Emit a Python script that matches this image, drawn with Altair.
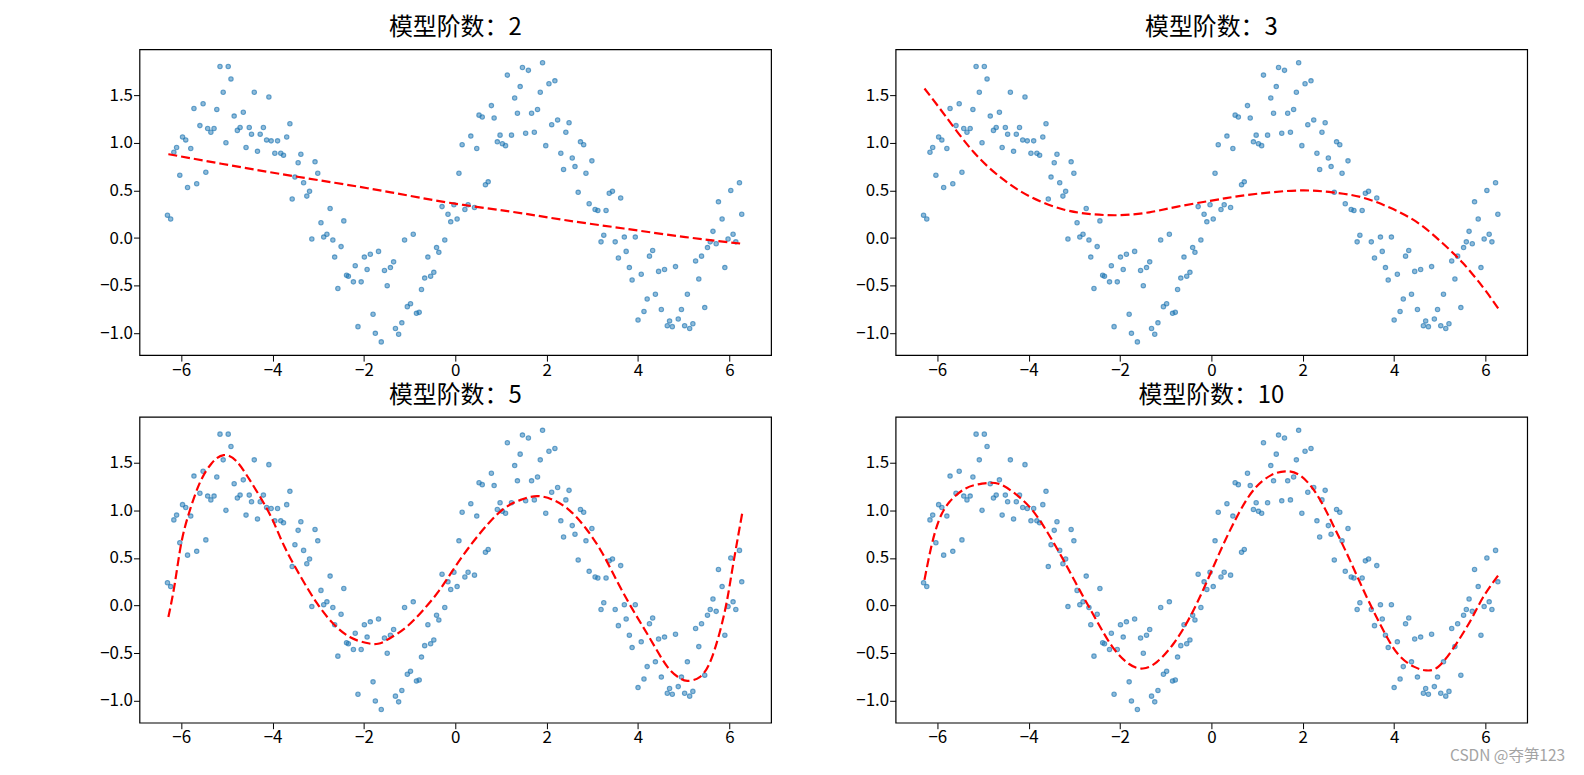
import altair as alt
import pandas as pd

# ---- scatter data (same points in every panel) ----
x_pts = [-6.30, -6.23, -6.16, -6.10, -6.03, -5.97, -5.90, -5.86, -5.79, -5.72,
         -5.66, -5.59, -5.52, -5.46, -5.42, -5.35, -5.28, -5.22, -5.15, -5.08,
         -5.02, -4.97, -4.91, -4.84, -4.77, -4.71, -4.64, -4.58, -4.51, -4.46,
         -4.40, -4.33, -4.27, -4.20, -4.13, -4.08, -4.03, -3.95, -3.89, -3.82,
         -3.76, -3.69, -3.62, -3.57, -3.51, -3.44, -3.38, -3.32, -3.25, -3.19,
         -3.14, -3.07, -3.01, -2.94, -2.88, -2.81, -2.74, -2.68, -2.64, -2.57,
         -2.50, -2.44, -2.38, -2.34, -2.23, -2.19, -2.13, -2.06, -1.99, -1.93,
         -1.86, -1.80, -1.75, -1.68, -1.62, -1.55, -1.49, -1.42, -1.35, -1.31,
         -1.24, -1.17, -1.11, -1.05, -0.98, -0.92, -0.85, -0.79, -0.74, -0.67,
         -0.60, -0.54, -0.47, -0.41, -0.36, -0.29, -0.23, -0.16, -0.10, -0.03,
         0.04, 0.08, 0.15, 0.21, 0.28, 0.34, 0.42, 0.47, 0.52, 0.59,
         0.66, 0.72, 0.79, 0.85, 0.92, 0.98, 1.03, 1.10, 1.14, 1.23,
         1.30, 1.36, 1.42, 1.47, 1.54, 1.60, 1.67, 1.73, 1.80, 1.86,
         1.91, 1.98, 2.05, 2.11, 2.18, 2.24, 2.31, 2.37, 2.42, 2.49,
         2.56, 2.62, 2.69, 2.74, 2.81, 2.86, 2.93, 2.99, 3.06, 3.12,
         3.19, 3.25, 3.30, 3.37, 3.44, 3.50, 3.57, 3.62, 3.70, 3.74,
         3.81, 3.87, 3.94, 4.00, 4.07, 4.13, 4.20, 4.25, 4.32, 4.38,
         4.45, 4.51, 4.58, 4.64, 4.69, 4.75, 4.82, 4.88, 4.95, 5.02,
         5.08, 5.13, 5.20, 5.26, 5.33, 5.39, 5.46, 5.52, 5.58, 5.64,
         5.71, 5.76, 5.84, 5.90, 5.97, 6.03, 6.08, 6.14, 6.22, 6.27]
y_pts = [0.24, 0.20, 0.90, 0.95, 0.66, 1.06, 1.03, 0.53, 0.94, 1.36,
         0.57, 1.18, 1.41, 0.69, 1.15, 1.11, 1.15, 1.35, 1.80, 1.53,
         1.00, 1.80, 1.67, 1.28, 1.13, 1.16, 1.32, 0.95, 1.16, 1.09,
         1.53, 0.91, 1.09, 1.16, 1.03, 1.48, 1.02, 0.89, 1.02, 0.89,
         0.87, 1.06, 1.20, 0.41, 0.64, 0.79, 0.88, 0.58, 0.44, 0.49,
         -0.01, 0.80, 0.68, 0.16, 0.01, 0.04, 0.31, -0.02, -0.20, -0.53,
         -0.09, 0.18, -0.39, -0.40, -0.46, -0.29, -0.93, -0.46, -0.20, -0.33,
         -0.17, -0.80, -1.00, -0.14, -1.09, -0.34, -0.50, -0.31, -0.25, -0.95,
         -1.01, -0.89, -0.02, -0.72, -0.69, 0.04, -0.79, -0.78, -0.54, -0.42,
         -0.20, -0.40, -0.36, -0.10, -0.15, 0.33, -0.02, 0.25, 0.17, 0.35,
         0.20, 0.68, 0.98, 0.30, 0.35, 1.07, 0.32, 0.94, 1.29, 1.27,
         0.56, 0.59, 1.39, 1.26, 1.01, 1.08, 0.99, 0.97, 1.71, 1.08,
         1.47, 1.31, 1.59, 1.79, 1.10, 1.76, 1.31, 1.11, 1.35, 1.53,
         1.84, 0.97, 1.62, 1.19, 1.65, 1.24, 0.89, 0.72, 1.11, 1.21,
         0.84, 0.75, 0.48, 1.01, 0.98, 0.68, 0.36, 0.81, 0.30, 0.29,
         -0.04, 0.03, 0.29, 0.47, 0.49, -0.04, -0.21, 0.42, 0.01, -0.14,
         -0.31, -0.44, 0.01, -0.86, -0.38, -0.77, -0.64, -0.19, -0.13, -0.59,
         -0.35, -0.75, -0.33, -0.92, -0.87, -0.93, -0.30, -0.85, -0.75, -0.92,
         -0.59, -0.95, -0.90, -0.24, -0.43, -0.19, -0.73, -0.10, -0.04, 0.07,
         -0.06, 0.38, 0.20, -0.31, -0.01, 0.50, 0.04, -0.04, 0.58, 0.25]

# ---- fitted curves ----
fit2_x = [-6.28, -5.12, -3.92, -2.64, -1.41, -0.13, 1.18, 2.38, 3.69, 5.04, 6.28]
fit2_y = [0.88, 0.78, 0.68, 0.58, 0.48, 0.37, 0.28, 0.19, 0.10, 0.01, -0.06]

fit3_x = [-6.28, -5.82, -5.20, -4.57, -3.95, -3.24, -2.61, -1.99, -1.36, -0.74, -0.03,
          0.60, 1.31, 2.02, 2.65, 3.27, 3.90, 4.52, 5.05, 5.50, 5.95, 6.28]
fit3_y = [1.57, 1.28, 0.90, 0.62, 0.43, 0.30, 0.25, 0.24, 0.27, 0.33, 0.39,
          0.44, 0.48, 0.50, 0.48, 0.43, 0.32, 0.16, -0.05, -0.26, -0.52, -0.74]

fit5_x = [-6.28, -6.14, -6.00, -5.83, -5.60, -5.34, -5.07, -4.80, -4.54, -4.27, -4.00,
          -3.74, -3.38, -3.02, -2.67, -2.31, -1.96, -1.69, -1.42, -1.06, -0.71, -0.35,
          0.00, 0.36, 0.72, 1.07, 1.43, 1.79, 2.14, 2.50, 2.86, 3.22, 3.57, 3.93,
          4.28, 4.64, 4.91, 5.08, 5.35, 5.62, 5.89, 6.06, 6.28]
fit5_y = [-0.12, 0.23, 0.65, 0.97, 1.28, 1.49, 1.58, 1.52, 1.35, 1.14, 0.90,
          0.62, 0.30, 0.02, -0.19, -0.33, -0.39, -0.40, -0.34, -0.22, -0.05, 0.16,
          0.41, 0.65, 0.86, 1.02, 1.11, 1.15, 1.11, 1.00, 0.81, 0.55, 0.23, -0.08,
          -0.36, -0.64, -0.76, -0.79, -0.75, -0.54, -0.08, 0.37, 0.97]

fit10_x = [-6.28, -6.13, -5.96, -5.73, -5.38, -5.02, -4.66, -4.31, -3.95, -3.59, -3.24,
           -2.88, -2.52, -2.17, -1.81, -1.50, -1.19, -0.83, -0.47, -0.12, 0.24, 0.60,
           0.95, 1.31, 1.62, 1.93, 2.29, 2.65, 3.00, 3.36, 3.72, 4.07, 4.43, 4.70,
           4.97, 5.32, 5.68, 5.95, 6.28]
fit10_y = [0.27, 0.62, 0.90, 1.09, 1.23, 1.28, 1.28, 1.18, 1.02, 0.77, 0.48,
           0.16, -0.15, -0.43, -0.61, -0.66, -0.59, -0.40, -0.12, 0.23, 0.62, 0.97,
           1.23, 1.37, 1.41, 1.37, 1.18, 0.86, 0.51, 0.13, -0.22, -0.50, -0.64, -0.68,
           -0.64, -0.43, -0.15, 0.09, 0.32]

degrees = [2, 3, 5, 10]
fits = {2: (fit2_x, fit2_y), 3: (fit3_x, fit3_y), 5: (fit5_x, fit5_y), 10: (fit10_x, fit10_y)}
x_ticks = [-6, -4, -2, 0, 2, 4, 6]
y_ticks = [-1.0, -0.5, 0.0, 0.5, 1.0, 1.5]
watermark = "CSDN @夺笋123"

FONT = "Noto Sans CJK SC"
pts_df = pd.DataFrame({"x": x_pts, "y": y_pts})

xscale = alt.Scale(domain=[-6.912, 6.912], nice=False, zero=False)
yscale = alt.Scale(domain=[-1.229, 1.981], nice=False, zero=False)
xaxis = alt.Axis(values=x_ticks, format="d", title=None, grid=False, domain=False,
                 tickSize=6, tickColor="black", tickWidth=1, labelFontSize=17,
                 labelColor="black", labelFont=FONT, labelPadding=1)
yaxis = alt.Axis(values=y_ticks, format=".1f", title=None, grid=False, domain=False,
                 tickSize=6, tickColor="black", tickWidth=1, labelFontSize=17,
                 labelColor="black", labelFont=FONT, labelPadding=1,
                 minExtent=131, maxExtent=131)


def panel(deg, with_mark=False):
    fx, fy = fits[deg]
    line_df = pd.DataFrame({"x": fx, "y": fy})
    pts = alt.Chart(pts_df).mark_point(
        shape="circle", filled=False, fill="#1f77b4", stroke="#1f77b4",
        fillOpacity=0.5, strokeOpacity=0.65, strokeWidth=1.1, size=20
    ).encode(
        x=alt.X("x:Q", scale=xscale, axis=xaxis),
        y=alt.Y("y:Q", scale=yscale, axis=yaxis),
    )
    line = alt.Chart(line_df).mark_line(
        color="#ff0000", strokeWidth=2.2, strokeDash=[9, 4], interpolate="natural"
    ).encode(x=alt.X("x:Q", scale=xscale), y=alt.Y("y:Q", scale=yscale))
    layers = [pts, line]
    if with_mark:
        wm = alt.Chart(pd.DataFrame({"t": [watermark]})).mark_text(
            align="right", baseline="alphabetic", fontSize=15.5, font=FONT,
            color="#9a9a9a", opacity=0.9
        ).encode(x=alt.value(672), y=alt.value(345), text="t:N")
        layers.append(wm)
    return alt.layer(*layers).properties(
        width=634, height=307,
        title=alt.TitleParams(text=f"模型阶数：{deg}", fontSize=24, fontWeight="normal",
                              font=FONT, color="black", frame="group",
                              anchor="middle", baseline="bottom", offset=-15),
    )


chart = alt.concat(
    *[panel(d, with_mark=(d == 10)) for d in degrees],
    columns=2, spacing={"row": 62, "column": 125}, bounds="flush",
).properties(
    padding={"left": 0, "top": 6, "right": 10, "bottom": 5},
    background="white",
).configure(font=FONT).configure_view(stroke="black", strokeWidth=1.2)

chart.save("out.html", embed_options={"renderer": "svg", "actions": False})
